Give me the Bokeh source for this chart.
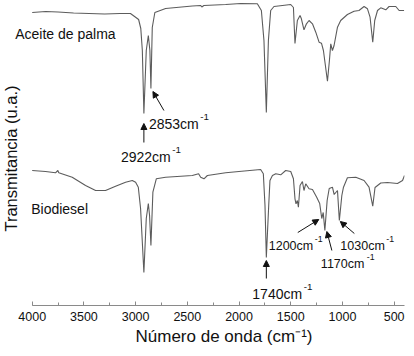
import math
from bokeh.plotting import figure
from bokeh.models import Range1d, SingleIntervalTicker, Arrow, NormalHead, Label, Title
from bokeh.embed import file_html
from bokeh.resources import INLINE

# ---------------- data ----------------
palma_wn = [4000, 3870, 3750, 3600, 3450, 3300, 3150, 3050, 3010, 2971,
            2950, 2935, 2920, 2897, 2877, 2862, 2852, 2839, 2814, 2710,
            2452, 2370, 2360, 2340, 2129, 1984, 1823, 1784, 1759, 1736,
            1716, 1694, 1662, 1500, 1474, 1459, 1436, 1410, 1397, 1372,
            1348, 1323, 1290, 1258, 1226, 1203, 1184, 1145, 1126, 1113,
            1097, 1081, 1048, 1017, 952, 888, 840, 791, 758, 733,
            707, 688, 661, 630, 581, 549, 484, 452, 404]
palma_t = [293, 294, 293.5, 292.5, 292, 291.5, 292, 292, 289, 286,
           277, 255, 192, 255, 270, 255, 217, 278, 293, 297,
           299.5, 300, 298.5, 300, 301, 302, 301.7, 295, 265, 193,
           265, 295, 299, 301, 298, 262, 285, 290, 286.7, 275.7,
           281.7, 285, 281.7, 273.3, 263.3, 262.3, 255, 224.3, 245, 261.7,
           255, 260, 278.3, 285, 291, 294.3, 295, 299, 296.7, 288.3,
           263.3, 285, 295, 297.7, 295.7, 299, 299, 295, 295]

bio_wn = [4000, 3871, 3775, 3752, 3743, 3613, 3484, 3387, 3291, 3194,
          3097, 3032, 3000, 2974, 2952, 2920, 2897, 2877, 2865, 2852,
          2833, 2800, 2710, 2452, 2391, 2371, 2339, 2306, 2129, 2001,
          1791, 1765, 1749, 1736, 1713, 1701, 1677, 1645, 1597, 1549,
          1500, 1474, 1459, 1449, 1436, 1426, 1410, 1387, 1372, 1355,
          1323, 1290, 1249, 1220, 1200, 1186, 1170, 1148, 1128, 1097,
          1080, 1048, 1030, 1006, 990, 952, 871, 791, 743, 707,
          685, 630, 565, 468, 419, 400]
bio_t = [135, 134, 132.7, 135, 132.7, 128.3, 120, 115, 115, 119.3,
         123.3, 125, 123.3, 118.3, 97, 33, 87, 102, 90, 60,
         113.3, 126.7, 128.3, 130, 131.7, 128.3, 126.7, 130, 132.7, 134,
         136, 131.7, 100, 48, 100, 125, 130, 131.7, 130.7, 135,
         134, 126.7, 106.7, 101.7, 105, 98.3, 120, 124, 115, 121.7,
         116.7, 116, 108.3, 102, 87, 93, 75, 105, 117, 118.3,
         111, 115, 85, 110, 118.3, 127.7, 128.3, 125, 118.3, 99.3,
         118, 122.5, 123, 122, 125, 130]

series_names = ["Aceite de palma", "Biodiesel"]
peak_wn = [2920, 2852, 1736, 1200, 1170, 1030]
peak_series = [0, 0, 1, 1, 1, 1]
peak_labels = ["2922cm", "2853cm", "1740cm", "1200cm", "1170cm", "1030cm"]
x_label = "Número de onda (cm⁻¹)"
y_label = "Transmitancia (u.a.)"
x_bounds = (400, 4000)

# ---------------- layout / style ----------------
FONT = "Liberation Sans"
TRACE = "#5c5c5c"
INK = "#111111"
AXIS = "#8a8a8a"
FRAME_W = 404
LEFT_PAD_PX = 31.7                         # px between canvas edge and 4000
PX_X = (x_bounds[1] - x_bounds[0]) / (FRAME_W - LEFT_PAD_PX)  # wavenumber per px
X_LEFT = x_bounds[1] + LEFT_PAD_PX * PX_X
X_RIGHT = x_bounds[0]
PX_Y = 1.0

p = figure(width=414, height=356, x_range=Range1d(X_LEFT, X_RIGHT), y_range=Range1d(0, 305),
           output_backend="svg", toolbar_location=None, y_axis_location=None,
           min_border_left=0, min_border_right=10, min_border_top=0, min_border_bottom=51)
p.outline_line_color = None
p.grid.visible = False

p.line(palma_wn, palma_t, line_color=TRACE, line_width=1.1)
p.line(bio_wn, bio_t, line_color=TRACE, line_width=1.1)

xa = p.xaxis[0]
xa.bounds = x_bounds
xa.ticker = SingleIntervalTicker(interval=500, num_minor_ticks=2)
xa.axis_line_color = AXIS
xa.major_tick_line_color = AXIS
xa.minor_tick_line_color = AXIS
xa.major_tick_in = 4
xa.major_tick_out = 0
xa.minor_tick_in = 3
xa.minor_tick_out = 0
xa.major_label_text_font = FONT
xa.major_label_text_font_size = "12.5px"
xa.major_label_text_color = INK
xa.major_label_standoff = 6

p.add_layout(Title(text=x_label, align="left", offset=135, standoff=2,
                   text_font=FONT, text_font_size="17px", text_font_style="normal",
                   text_color=INK), "below")

# y-axis title (inside the frame, left of the 4000 edge)
p.add_layout(Label(x=X_LEFT, x_offset=10, y=305 - 158, text=y_label, angle=math.pi / 2,
                   text_align="center", text_baseline="middle", text_font=FONT,
                   text_font_size="16.5px", text_color=INK))

# series names
series_t0 = [palma_t[0], bio_t[0]]
name_pos = [(-17, -21), (-1, -38)]  # (dx px, dy in T units)
for name, t0, (dx, dy) in zip(series_names, series_t0, name_pos):
    p.add_layout(Label(x=x_bounds[1], y=t0 + dy, x_offset=dx, text=name, text_font=FONT,
                       text_font_size="14px", text_color=INK, text_baseline="alphabetic"))

# annotations: head, tail, text offsets in screen px relative to the peak, font px
ann_layout = [
    ((0, 10), (0, 29), (-23, 43), 14),
    ((2, 3), (13, 22), (-2, 35), 14),
    ((0, 3), (0, 21), (-14, 36), 14),
    ((-3, 1), (-24, 14), (-53, 27), 12.5),
    ((2, 1), (7, 20), (-4, 33), 12.5),
    ((1, 1), (15, 13), (1, 25), 12.5),
]
series_data = [(palma_wn, palma_t), (bio_wn, bio_t)]
for wn, s, lab, (head, tail, txt, fs) in zip(peak_wn, peak_series, peak_labels, ann_layout):
    wns, ts = series_data[s]
    t = ts[wns.index(wn)]
    p.add_layout(Arrow(end=NormalHead(size=6, fill_color=INK, line_color=INK, line_width=1),
                       x_start=wn - tail[0] * PX_X, y_start=t - tail[1] * PX_Y,
                       x_end=wn - head[0] * PX_X, y_end=t - head[1] * PX_Y,
                       line_color=INK, line_width=1))
    p.add_layout(Label(x=wn, y=t, x_offset=txt[0], y_offset=-txt[1], text=lab,
                       text_font=FONT, text_font_size=f"{fs}px", text_color=INK,
                       text_baseline="alphabetic"))
    p.add_layout(Label(x=wn, y=t, x_offset=txt[0] + 3.6 * fs + 1, y_offset=-txt[1] + 0.5 * fs,
                       text="-1", text_font=FONT, text_font_size=f"{0.7 * fs:.1f}px",
                       text_color=INK, text_baseline="alphabetic"))

open("out.html", "w").write(file_html(p, INLINE))
